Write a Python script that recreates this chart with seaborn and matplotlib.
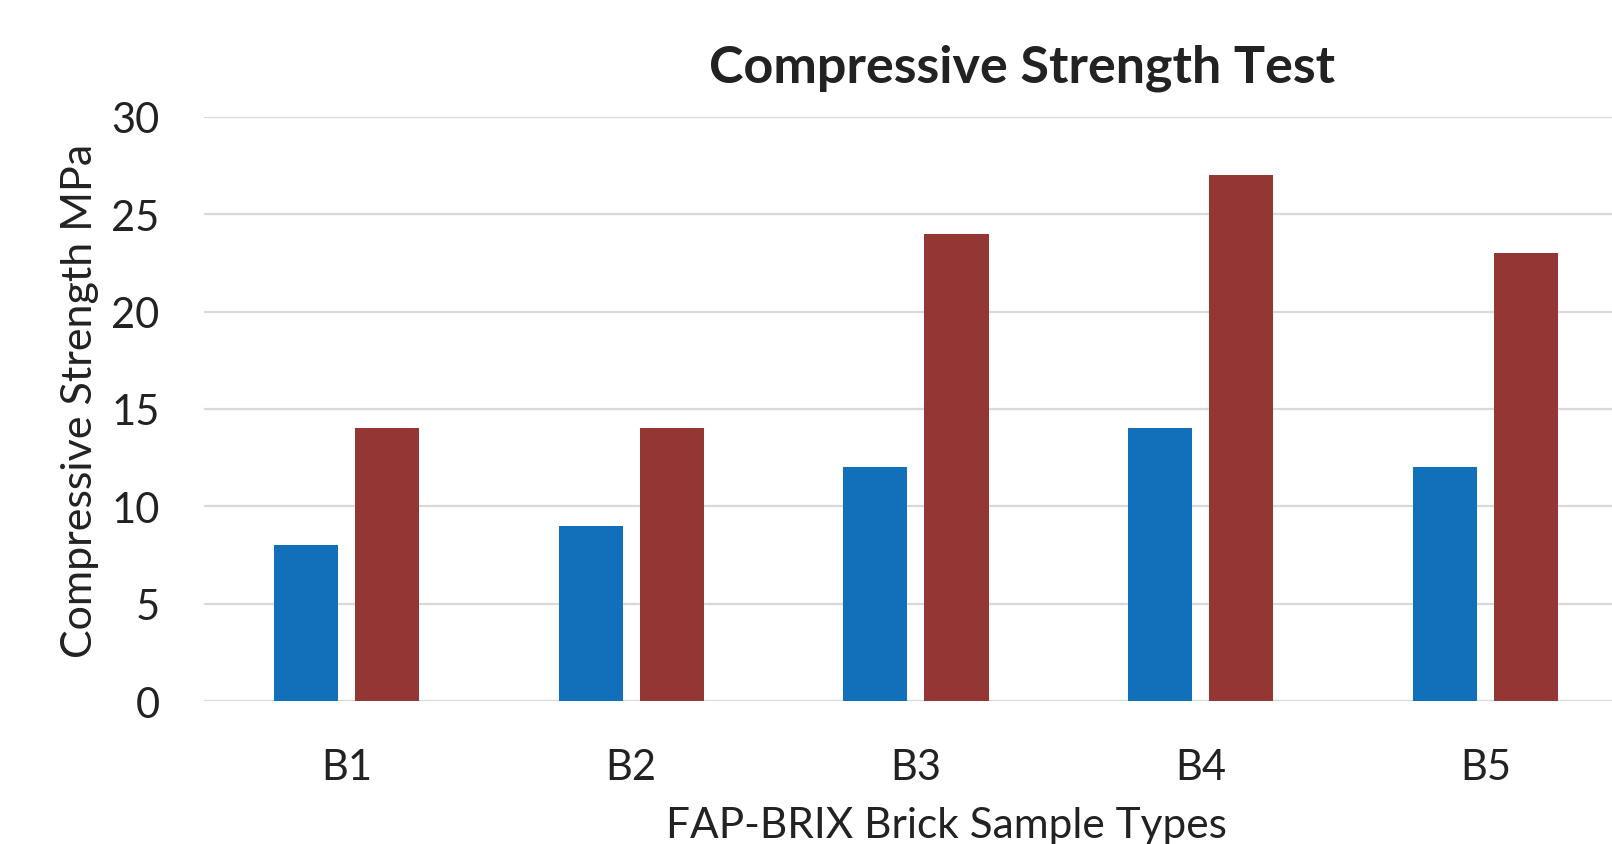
import matplotlib
matplotlib.use("Agg")
import matplotlib.pyplot as plt
import seaborn as sns
import pandas as pd

samples = ["B1", "B2", "B3", "B4", "B5"]
series_a = [8, 9, 12, 14, 12]
series_b = [14, 14, 24, 27, 23]
series_names = ["Series 1", "Series 2"]
y_ticks = [0, 5, 10, 15, 20, 25, 30]

df = pd.DataFrame({
    "Sample": samples * 2,
    "Strength": series_a + series_b,
    "Series": [series_names[0]] * len(samples) + [series_names[1]] * len(samples),
})

sns.set_theme(style="white")
plt.rcParams["font.family"] = ["Lato", "DejaVu Sans"]

fig = plt.figure(figsize=(16.12, 8.45), dpi=100)
ax = fig.add_axes([204 / 1612, 1 - 702 / 845, 1 - 204 / 1612, 584 / 845])

sns.barplot(
    data=df, x="Sample", y="Strength", hue="Series", order=samples,
    palette={series_names[0]: "#1170b9", series_names[1]: "#943634"},
    width=0.57, gap=0.21, dodge=True, legend=False, ax=ax,
    edgecolor="none", saturation=1,
)

ax.set_xlim(-0.5, 4.444)
ax.set_ylim(0, 30)
ax.set_yticks(y_ticks)
ax.yaxis.grid(True, color="#d9d9d9", linewidth=1.6)
ax.set_axisbelow(True)
for s in ax.spines.values():
    s.set_visible(False)
ax.tick_params(axis="y", length=0, pad=32, labelsize=30, labelcolor="#222222")
ax.tick_params(axis="x", length=0, pad=34, labelsize=30, labelcolor="#222222")

ax.set_xlabel("FAP-BRIX Brick Sample Types", fontsize=30.5, color="#222222", labelpad=14)
ax.set_ylabel("Compressive Strength MPa", fontsize=31, color="#222222", labelpad=9)

# the plot area runs off the right edge, so labels sit off-centre like the source
ax.xaxis.label.set_x(0.527)
ax.yaxis.label.set_y(0.515)

fig.text(1022 / 1612, 1 - 68 / 845, "Compressive Strength Test", ha="center", va="center",
         fontsize=37.5, fontweight="bold", color="#222222")

fig.savefig("out.png", dpi=100)
